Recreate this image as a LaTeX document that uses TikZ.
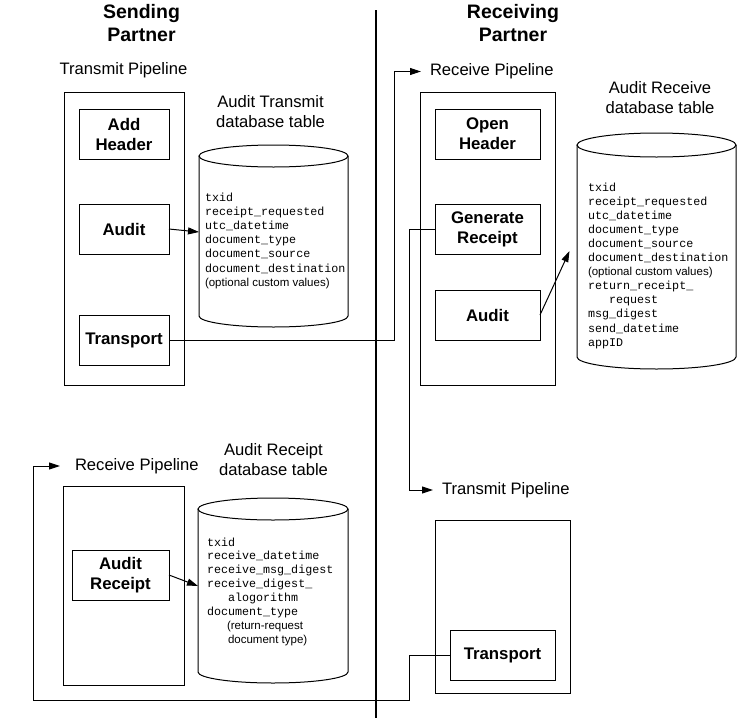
\documentclass[tikz,border=0pt]{standalone}
\usepackage{fontspec}
\setmainfont{Liberation Sans}
\newfontfamily\monof{Liberation Mono}
\usetikzlibrary{arrows.meta}
\newcommand\dbsans{\rmfamily\fontsize{11.5}{14}\selectfont}
\begin{document}
\begin{tikzpicture}[x=1pt,y=-1pt,line width=1pt,
  every node/.style={inner sep=0pt,outer sep=0pt},
  frame/.style={draw,line width=1pt},
  stage/.style={draw,line width=1pt,font=\bfseries\fontsize{16.8}{20}\selectfont,align=center},
  lbl/.style={font=\fontsize{16.6}{20}\selectfont,align=center},
  ttl/.style={font=\bfseries\fontsize{19.5}{23}\selectfont,align=center},
  arr/.style={-{Triangle[length=11pt,width=7pt]}},
  mono/.style={font=\monof\fontsize{11.7}{14}\selectfont,anchor=base west},
]
\useasboundingbox (0,0) rectangle (756,718);

% divider
\draw[line width=2pt] (375.5,10) -- (375.5,718);

% titles
\node[ttl] (tsend) at (141.5,23.5) {Sending\\Partner};
\node[ttl] (trecv) at (513,23.5) {Receiving\\Partner};

% ---------- sending partner: transmit pipeline ----------
\node[lbl,anchor=base] (tpl) at (123.5,74) {Transmit Pipeline};
\node[frame,minimum width=120pt,minimum height=293pt] (tp) at (124,238.5) {};
\node[stage,minimum width=90pt,minimum height=50pt] (addh) at (124,134) {Add\\Header};
\node[stage,minimum width=90pt,minimum height=50pt] (aud1) at (124,229) {Audit};
\node[stage,minimum width=90pt,minimum height=50pt] (tr1) at (124,340) {Transport};

\node[lbl] (db1l) at (270.5,112) {Audit Transmit\\database table};
\node[minimum width=149pt,minimum height=160pt] (cyl1) at (273.5,236) {};
\draw (cyl1.north west) -- (cyl1.south west)
  arc[start angle=180,end angle=0,x radius=74.5,y radius=11] -- (cyl1.north east);
\draw (cyl1.north) ellipse[x radius=74.5,y radius=11];
\foreach \t [count=\i] in {txid,receipt\_requested,utc\_datetime,document\_type,
  document\_source,document\_destination,{\dbsans (optional custom values)}}
  \node[mono,name=c1t\i] at (205,201+14.2*\i-14.2) {\t};

% ---------- receiving partner: receive pipeline ----------
\node[lbl,anchor=west,inner xsep=9pt] (rpl) at (421,71.5) {Receive Pipeline};
\node[frame,minimum width=135pt,minimum height=293pt] (rp) at (487.5,238.5) {};
\node[stage,minimum width=105pt,minimum height=50pt] (openh) at (487.5,134) {Open\\Header};
\node[stage,minimum width=105pt,minimum height=50pt] (genr) at (487.5,229) {Generate\\Receipt};
\node[stage,minimum width=105pt,minimum height=50pt] (aud2) at (487.5,315) {Audit};

\node[lbl] (db2l) at (660,98) {Audit Receive\\database table};
\node[minimum width=159pt,minimum height=212pt] (cyl2) at (656.5,251) {};
\draw (cyl2.north west) -- (cyl2.south west)
  arc[start angle=180,end angle=0,x radius=79.5,y radius=12] -- (cyl2.north east);
\draw (cyl2.north) ellipse[x radius=79.5,y radius=12];
\foreach \t [count=\i] in {txid,receipt\_requested,utc\_datetime,document\_type,
  document\_source,document\_destination,{\dbsans (optional custom values)},
  return\_receipt\_,{\hspace*{21pt}request},msg\_digest,send\_datetime,appID}
  \node[mono,name=c2t\i] at (588,191+14.1*\i-14.1) {\t};

% ---------- receiving partner: transmit pipeline ----------
\node[lbl,anchor=west,inner xsep=9pt] (tpl2) at (433,490) {Transmit Pipeline};
\node[frame,minimum width=135pt,minimum height=173pt] (tp2) at (502.5,606.5) {};
\node[stage,minimum width=105pt,minimum height=50pt] (tr2) at (502.5,655) {Transport};

% ---------- sending partner: receive pipeline ----------
\node[lbl,anchor=west,inner xsep=15pt] (rpl2) at (60,466) {Receive Pipeline};
\node[frame,minimum width=121pt,minimum height=199pt] (rp2) at (123.5,585.5) {};
\node[stage,minimum width=97pt,minimum height=50pt] (audr) at (120.5,575) {Audit\\Receipt};

\node[lbl] (db3l) at (273.5,460) {Audit Receipt\\database table};
\node[minimum width=150pt,minimum height=163pt] (cyl3) at (273,590.5) {};
\draw (cyl3.north west) -- (cyl3.south west)
  arc[start angle=180,end angle=0,x radius=75,y radius=11] -- (cyl3.north east);
\draw (cyl3.north) ellipse[x radius=75,y radius=11];
\foreach \t [count=\i] in {txid,receive\_datetime,receive\_msg\_digest,receive\_digest\_,
  {\hspace*{21pt}alogorithm},document\_type,{\dbsans\hspace*{20pt}(return-request},
  {\dbsans\hspace*{21pt}document type)}}
  \node[mono,name=c3t\i] at (207,546+13.9*\i-13.9) {\t};

% ---------- connectors ----------
\draw[arr] (aud1.east) -- ([yshift=-3pt]aud1.east -| cyl1.west);
\draw[arr] (audr.east) -- ([yshift=-11pt]audr.east -| cyl3.west);
\coordinate (a2tip) at (569.5,251);
\draw[arr] (aud2.east) -- (a2tip);
\draw[arr] (tr1.east) -| ([xshift=-27pt]rpl.west) -- (rpl.west);
\draw[arr] (genr.west) -| ([xshift=-24pt]tpl2.west) -- (tpl2.west);
\draw[arr] (tr2.west) -- ++(-41,0) -- ++(0,45) -| ([xshift=-27pt]rpl2.west) -- (rpl2.west);
\end{tikzpicture}
\end{document}
